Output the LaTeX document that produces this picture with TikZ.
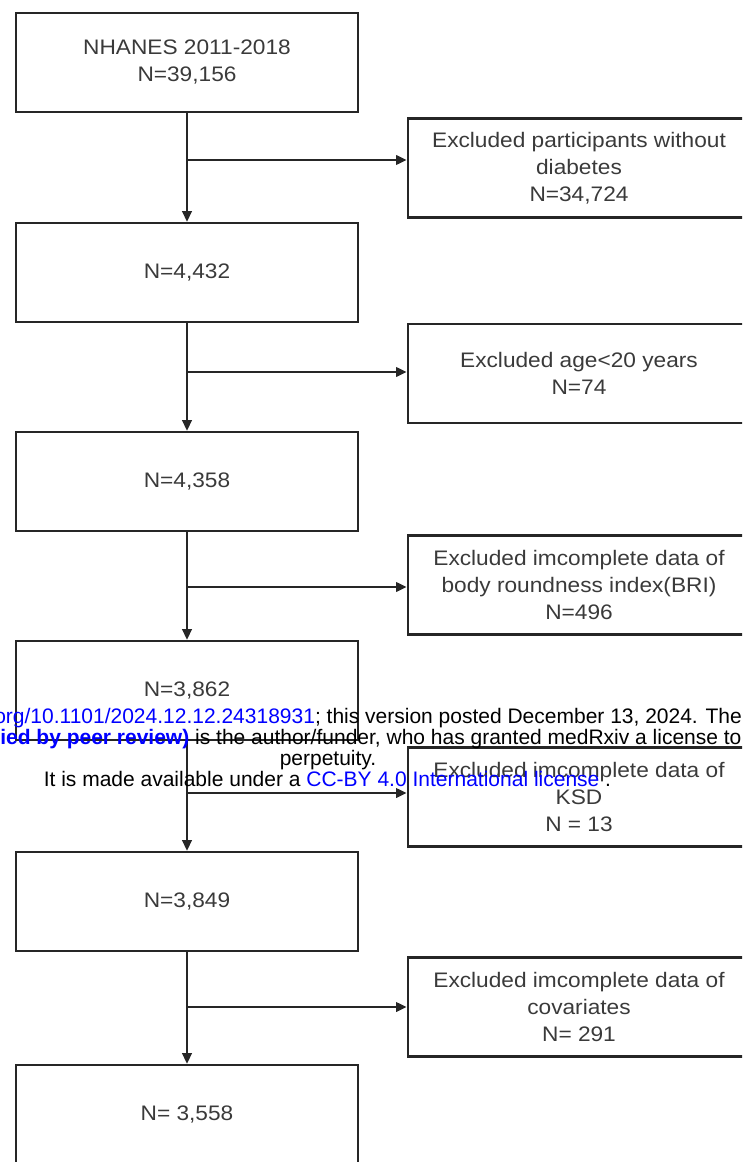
\documentclass[tikz,border=0pt]{standalone}
\usepackage{fontspec}
\setmainfont{Liberation Sans}
\newfontfamily\boxfont{Liberation Sans}[FakeStretch=1.08]
\usetikzlibrary{arrows.meta}
\definecolor{boxline}{HTML}{262626}
\definecolor{boxtext}{HTML}{3A3A3A}
\definecolor{linkblue}{HTML}{0000FF}

\begin{document}
\begin{tikzpicture}[x=0.75pt,y=-0.75pt]
      \useasboundingbox (0,0) rectangle (742,1162);
      \clip (0,0) rectangle (742,1162);
      \begin{scope}[every node/.style={draw=boxline,line width=1.9pt,minimum width=256.5pt,minimum height=74pt,inner sep=0pt,align=center,text=boxtext,font=\boxfont\fontsize{15.75pt}{20.25pt}\selectfont}]
        \node (1) at (187,62.5) {NHANES 2011-2018\\N=39,156};
        \node (2) at (187,272.5) {N=4,432};
        \node (3) at (187,481.5) {N=4,358};
        \node (4) at (187,690.5) {N=3,862};
        \node (5) at (187,901.5) {N=3,849};
        \node (6) at (187,1114.5) {N= 3,558};
        \node (x1) at (579,168) {Excluded participants without\\diabetes\\N=34,724};
        \node (x2) at (579,373.5) {Excluded age<20 years\\N=74};
        \node (x3) at (579,585) {Excluded imcomplete data of\\body roundness index(BRI)\\N=496};
        \node (x4) at (579,797) {Excluded imcomplete data of\\KSD\\N = 13};
        \node (x5) at (579,1007) {Excluded imcomplete data of\\covariates\\N= 291};
      \end{scope}
      \coordinate (j1) at (188,160);
      \coordinate (j2) at (188,372);
      \coordinate (j3) at (188,587);
      \coordinate (j4) at (188,793);
      \coordinate (j5) at (188,1007);
      \begin{scope}[every edge/.style={draw=boxline,line width=1.9pt,-{Triangle[length=8pt,width=7pt]}}]
        \path (1) edge (2);
        \path (2) edge (3);
        \path (3) edge (4);
        \path (4) edge (5);
        \path (5) edge (6);
        \path (j1) edge (j1 -| x1.west);
        \path (j2) edge (j2 -| x2.west);
        \path (j3) edge (j3 -| x3.west);
        \path (j4) edge (j4 -| x4.west);
        \path (j5) edge (j5 -| x5.west);
      \end{scope}
      \begin{scope}[every node/.style={inner sep=0pt,font=\fontsize{15.75pt}{15pt}\selectfont}]
        \node[anchor=base west] (w1) at (-6,723) {\textcolor{linkblue}{org/10.1101/2024.12.12.24318931}; this version posted December 13, 2024. The};
        \node[anchor=base west] (w2) at (0,744) {\textcolor{linkblue}{\bfseries ied by peer review)} is the author/funder, who has granted medRxiv a license to};
        \node[anchor=base] (w3) at (328,765) {perpetuity.};
        \node[anchor=base west] (w4) at (43.5,786) {It is made available under a \textcolor{linkblue}{CC-BY 4.0 International license} .};
      \end{scope}
    \end{tikzpicture}
\end{document}
